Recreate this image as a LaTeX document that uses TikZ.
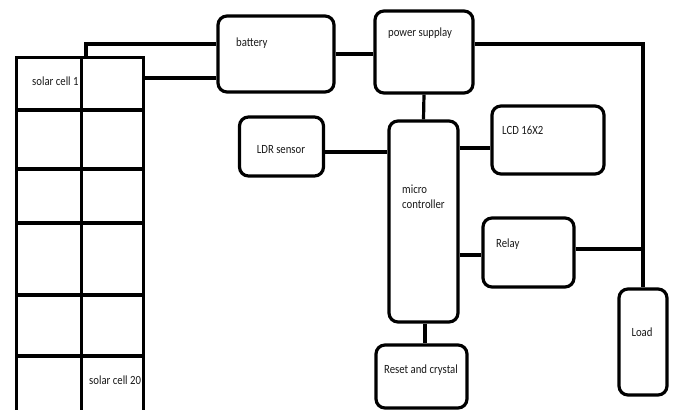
\documentclass[tikz,border=0pt]{standalone}
\usepackage{fontspec}
\setmainfont{Carlito}
\newcommand{\ltxt}[1]{\scalebox{0.86}[1]{#1}}
\begin{document}
\begin{tikzpicture}[x=1pt,y=-1pt,
  blk/.style={draw=black,line width=3.2pt,rounded corners=9pt,inner sep=0pt},
  wire/.style={draw=black,line width=3.2pt},
  gridline/.style={draw=black,line width=3pt},
  lbl/.style={font=\fontsize{12.5}{13}\selectfont,text=black!90,inner sep=0pt}]
\useasboundingbox (0,0) rectangle (673,410);
\clip (0,0) rectangle (673,410);
% solar grid
\coordinate (gTL) at (16,57);
\coordinate (gTR) at (143,57);
\coordinate (gTap) at (86,57);
\coordinate (gOut) at (143,78);
\draw[gridline] (16,412) -- (gTL) -- (gTR) -- (143,412);
\draw[gridline] (81,57) -- (81,412);
\foreach \yy in {110,169,223,295,356} \draw[gridline,line width=3.6pt] (16,\yy) -- (143,\yy);
\node[lbl,anchor=west] (sc1) at (32,81) {\ltxt{solar cell 1}};
\node[lbl,anchor=west] (sc20) at (89,380) {\ltxt{solar cell 20}};
% boxes
\node[blk,minimum width=116,minimum height=76] (bat) at (276,54) {};
\node[blk,minimum width=98,minimum height=82] (ps) at (424,52) {};
\node[blk,minimum width=84,minimum height=59] (ldr) at (281.5,146.5) {};
\node[blk,minimum width=69,minimum height=201] (mc) at (423.5,221.5) {};
\node[blk,minimum width=112,minimum height=68] (lcd) at (548,140) {};
\node[blk,minimum width=91,minimum height=69] (relay) at (528.5,252.5) {};
\node[blk,minimum width=48,minimum height=106] (load) at (643,342) {};
\node[blk,minimum width=91,minimum height=63] (reset) at (421.5,376.5) {};
% labels
\node[lbl,anchor=west] at (236,43) {\ltxt{battery}};
\node[lbl,anchor=west] at (388,33) {\ltxt{power supplay}};
\node[lbl] at (281,150) {\ltxt{LDR sensor}};
\node[lbl,anchor=west] at (402,189) {\ltxt{micro}};
\node[lbl,anchor=west] at (402,204) {\ltxt{controller}};
\node[lbl,anchor=west] at (502,130) {\ltxt{LCD 16X2}};
\node[lbl,anchor=west] at (496,244) {\ltxt{Relay}};
\node[lbl] at (642,332) {\ltxt{Load}};
\node[lbl] at (421,370) {\ltxt{Reset and crystal}};
% wires
\coordinate (rail) at (643,44);
\coordinate (relJ) at (643,249);
\draw[wire] (gTap) -- (86,44) -- (bat.west |- 0,44);
\draw[wire] (gOut) -- (bat.west |- gOut);
\draw[wire] (bat.east |- 0,54) -- (ps.west |- 0,54);
\draw[wire] (ps.east |- rail) -- (rail) -- (load.north);
\draw[wire] (ps.south) -- (mc.north);
\draw[wire] (ldr.east |- 0,152) -- (mc.west |- 0,152);
\draw[wire] (mc.east |- 0,148) -- (lcd.west |- 0,148);
\draw[wire] (mc.east |- 0,255) -- (relay.west |- 0,255);
\draw[wire] (relay.east |- relJ) -- (relJ);
\draw[wire] (mc.south -| 425,0) -- (reset.north -| 425,0);
\end{tikzpicture}
\end{document}
